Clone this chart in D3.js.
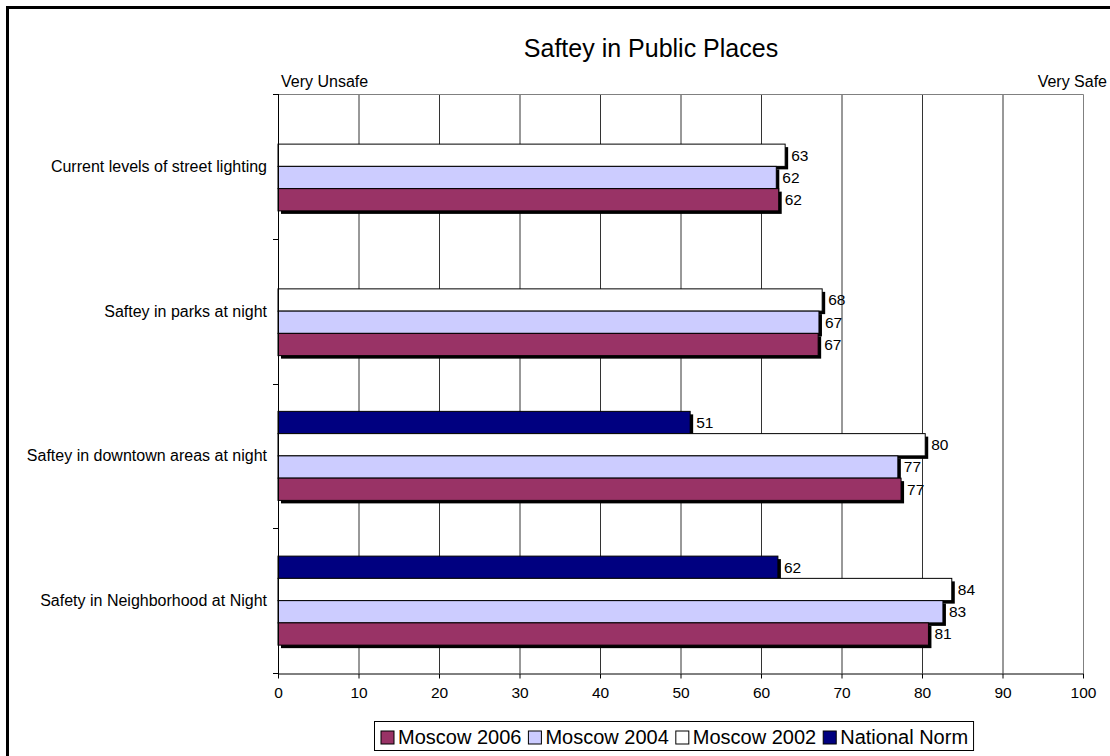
<!DOCTYPE html>
<html>
<head>
<meta charset="utf-8">
<script src="https://cdn.jsdelivr.net/npm/d3@7"></script>
<style>
  body { margin: 0; background: #fff; }
  svg { display: block; font-family: Arial, "Liberation Sans", sans-serif; }
</style>
</head>
<body>
<svg id="chart" width="1110" height="756"></svg>
<script>
// data
const categories = [
  'Current levels of street lighting',
  'Saftey in parks at night',
  'Saftey in downtown areas at night',
  'Safety in Neighborhood at Night'
];
const seriesNames = ['National Norm', 'Moscow 2002', 'Moscow 2004', 'Moscow 2006'];
const nationalNorm = [null, null, 51.2, 62.1];
const moscow2002 = [63.0, 67.6, 80.4, 83.7];
const moscow2004 = [61.9, 67.2, 77.0, 82.6];
const moscow2006 = [62.2, 67.1, 77.4, 80.8];
const xTicks = [0, 10, 20, 30, 40, 50, 60, 70, 80, 90, 100];
const legendOrder = ['Moscow 2006', 'Moscow 2004', 'Moscow 2002', 'National Norm'];

const seriesValues = {
  'National Norm': nationalNorm,
  'Moscow 2002': moscow2002,
  'Moscow 2004': moscow2004,
  'Moscow 2006': moscow2006
};
const colors = {
  'Moscow 2006': '#993366',
  'Moscow 2004': '#ccccff',
  'Moscow 2002': '#ffffff',
  'National Norm': '#000080'
};

const svg = d3.select('#chart');

// outer frame of the chart area
svg.append('rect')
  .attr('x', 7.5).attr('y', 7.5)
  .attr('width', 1130).attr('height', 770)
  .attr('fill', '#fff')
  .attr('stroke', '#000').attr('stroke-width', 3);

const plot = { left: 278, right: 1083, top: 94, bottom: 673 };

const x = d3.scaleLinear().domain([0, 100]).range([plot.left, plot.right]);
const y = d3.scaleBand().domain(categories)
  .range([plot.top, plot.bottom])
  .paddingInner(0.385).paddingOuter(0.1925);
const ySub = d3.scaleBand().domain(seriesNames).range([0, y.bandwidth()]);

// title
svg.append('text')
  .attr('x', 651).attr('y', 57)
  .attr('text-anchor', 'middle')
  .style('font-size', '25px')
  .text('Saftey in Public Places');

// scale end labels
svg.append('text').attr('x', 281).attr('y', 87)
  .style('font-size', '16px').text('Very Unsafe');
svg.append('text').attr('x', 1107).attr('y', 87)
  .attr('text-anchor', 'end')
  .style('font-size', '16px').text('Very Safe');

// grid
svg.append('g').selectAll('line')
  .data(xTicks.filter(d => d > 0 && d < 100))
  .enter().append('line')
  .attr('x1', d => x(d) + 0.5).attr('x2', d => x(d) + 0.5)
  .attr('y1', plot.top).attr('y2', plot.bottom)
  .attr('stroke', '#333').attr('stroke-width', 1);

// plot border top/right
svg.append('path')
  .attr('d', `M${plot.left},${plot.top + 0.5}H${plot.right + 0.5}V${plot.bottom}`)
  .attr('fill', 'none').attr('stroke', '#808080').attr('stroke-width', 1);

// bars
const rows = [];
categories.forEach((c, i) => {
  seriesNames.forEach(s => {
    const v = seriesValues[s][i];
    if (v != null) rows.push({ cat: c, series: s, value: v });
  });
});

const barG = svg.append('g');
// shadows first
barG.selectAll('rect.shadow')
  .data(rows).enter().append('rect')
  .attr('class', 'shadow')
  .attr('x', x(0) + 3)
  .attr('y', d => y(d.cat) + ySub(d.series) + 3)
  .attr('width', d => x(d.value) - x(0))
  .attr('height', ySub.bandwidth())
  .attr('fill', '#000');

barG.selectAll('rect.bar')
  .data(rows).enter().append('rect')
  .attr('class', 'bar')
  .attr('x', x(0))
  .attr('y', d => y(d.cat) + ySub(d.series))
  .attr('width', d => x(d.value) - x(0))
  .attr('height', ySub.bandwidth())
  .attr('fill', d => colors[d.series])
  .attr('stroke', '#000').attr('stroke-width', 1);

// data labels
barG.selectAll('text.lbl')
  .data(rows).enter().append('text')
  .attr('class', 'lbl')
  .attr('x', d => x(d.value) + 6)
  .attr('y', d => y(d.cat) + ySub(d.series) + ySub.bandwidth() / 2)
  .attr('dy', '0.35em')
  .style('font-size', '15.5px')
  .text(d => Math.round(d.value));

// x axis
const xAxis = svg.append('g')
  .attr('transform', `translate(0,${plot.bottom + 0.5})`)
  .call(d3.axisBottom(x).tickValues(xTicks).tickSize(5).tickPadding(8).tickSizeOuter(0));
xAxis.select('.domain').attr('stroke', '#000');
xAxis.selectAll('.tick line').attr('stroke', '#000');
xAxis.selectAll('text')
  .style('font-size', '15.5px')
  .style('font-family', 'Arial, "Liberation Sans", sans-serif');

// y axis line and ticks between categories
const yG = svg.append('g');
yG.append('line')
  .attr('x1', plot.left + 0.5).attr('x2', plot.left + 0.5)
  .attr('y1', plot.top).attr('y2', plot.bottom + 5)
  .attr('stroke', '#000');
const boundaries = categories.map(c => y(c) - y.step() * y.paddingInner() / 2)
  .concat([plot.bottom]);
yG.selectAll('line.tk')
  .data(boundaries).enter().append('line')
  .attr('class', 'tk')
  .attr('x1', plot.left - 5).attr('x2', plot.left)
  .attr('y1', d => Math.round(d) + 0.5).attr('y2', d => Math.round(d) + 0.5)
  .attr('stroke', '#000');
yG.selectAll('text')
  .data(categories).enter().append('text')
  .attr('x', plot.left - 11)
  .attr('y', d => y(d) + y.bandwidth() / 2)
  .attr('dy', '0.35em')
  .attr('text-anchor', 'end')
  .style('font-size', '16px')
  .text(d => d);

// legend
const legend = svg.append('g');
const items = legend.selectAll('g').data(legendOrder).enter().append('g');
items.append('rect')
  .attr('width', 13).attr('height', 13)
  .attr('y', -13)
  .attr('fill', d => colors[d])
  .attr('stroke', '#000').attr('stroke-width', 1);
items.append('text')
  .attr('x', 17).attr('y', 0)
  .style('font-size', '20px')
  .text(d => d);
let cx = 0;
items.each(function () {
  const w = this.getBBox().width;
  d3.select(this).attr('transform', `translate(${cx},0)`);
  cx += w + 7;
});
const legW = cx - 7 + 12;
const legX = 675 - legW / 2;
legend.insert('rect', ':first-child')
  .attr('x', -6.5).attr('y', -22.5)
  .attr('width', legW).attr('height', 29)
  .attr('fill', '#fff').attr('stroke', '#000');
legend.attr('transform', `translate(${Math.round(legX) + 6},744)`);
</script>
</body>
</html>
